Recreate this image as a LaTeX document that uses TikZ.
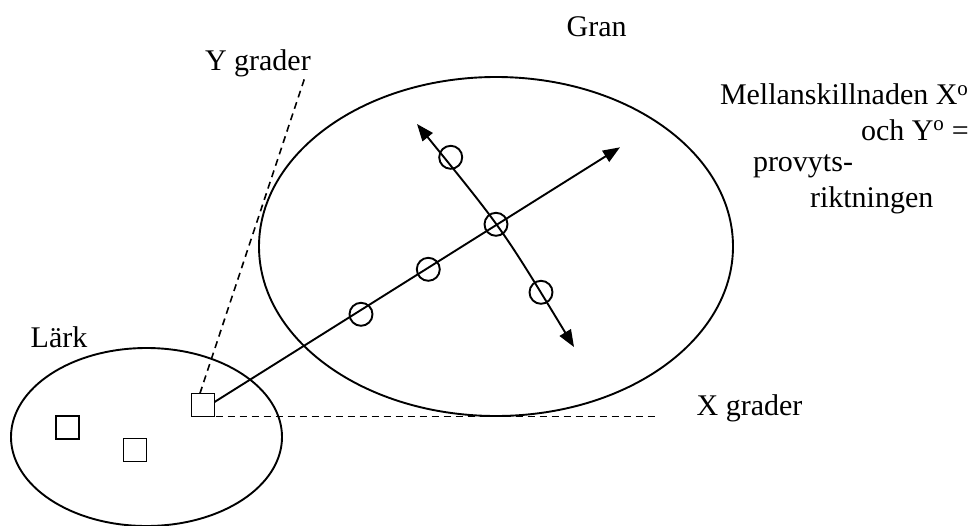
\documentclass[tikz,border=0pt]{standalone}
\usepackage{fontspec}
\setmainfont{Liberation Serif}
\usetikzlibrary{shapes.geometric,arrows.meta}
\begin{document}
\begin{tikzpicture}[x=1pt,y=-1pt,
  every node/.style={inner sep=0pt,outer sep=0pt},
  lbl/.style={anchor=base west,font=\fontsize{30}{34}\selectfont},
  region/.style={ellipse,draw,line width=1.9pt},
  sq/.style={rectangle,draw,line width=1.9pt,minimum size=23pt},
  tree/.style={circle,draw,line width=1.9pt,minimum size=23pt},
  conn/.style={line width=1.9pt},
  dashline/.style={line width=1.6pt,dash pattern=on 7pt off 5pt},
  tip/.style={-{Triangle[length=17pt,width=13pt]}}]
\useasboundingbox (0,0) rectangle (969,525);
% regions
\node[region,minimum width=474pt,minimum height=339pt] (gran) at (496,246.5) {};
\node[region,minimum width=271pt,minimum height=178pt] (lark) at (146.5,437) {};
% squares
\node[sq] (s1) at (203,405) {};
\node[sq] (s2) at (67.7,427.7) {};
\node[sq] (s3) at (135,450) {};
% circles
\node[tree] (c1) at (361,314.3) {};
\node[tree] (c2) at (428.3,269.3) {};
\node[tree] (c3) at (496,224.3) {};
\node[tree] (c4) at (450.7,157.3) {};
\node[tree] (c5) at (541,292.3) {};
% free ends
\coordinate (tipA) at (620,147.3);
\coordinate (tipB1) at (417,124);
\coordinate (tipB2) at (574,347);
\coordinate (xend) at (658,416.5);
\coordinate (yend) at (305,77);
% connectors
\draw[conn,tip] (s1.east) ++(0,-3) -- (tipA);
\draw[conn,{Triangle[length=17pt,width=13pt]}-{Triangle[length=17pt,width=13pt]}]
  (tipB1) .. controls (503,230) .. (tipB2);
\draw[dashline] (s1.south west) -- (xend);
\draw[dashline] (s1.105) -- (yend);
% labels
\node[lbl] (tgran) at (566.7,36) {Gran};
\node[lbl] (ty) at (205,70) {Y grader};
\node[lbl] (tlark) at (30.7,347) {Lärk};
\node[lbl] (tx) at (696.7,415) {X grader};
\node[lbl] (m1) at (720,104.3) {Mellanskillnaden X\textsuperscript{o}};
\node[lbl] (m2) at (861,140) {och Y\textsuperscript{o} =};
\node[lbl] (m3) at (753,171.7) {provyts-};
\node[lbl] (m4) at (810,207.7) {riktningen};
\end{tikzpicture}
\end{document}
